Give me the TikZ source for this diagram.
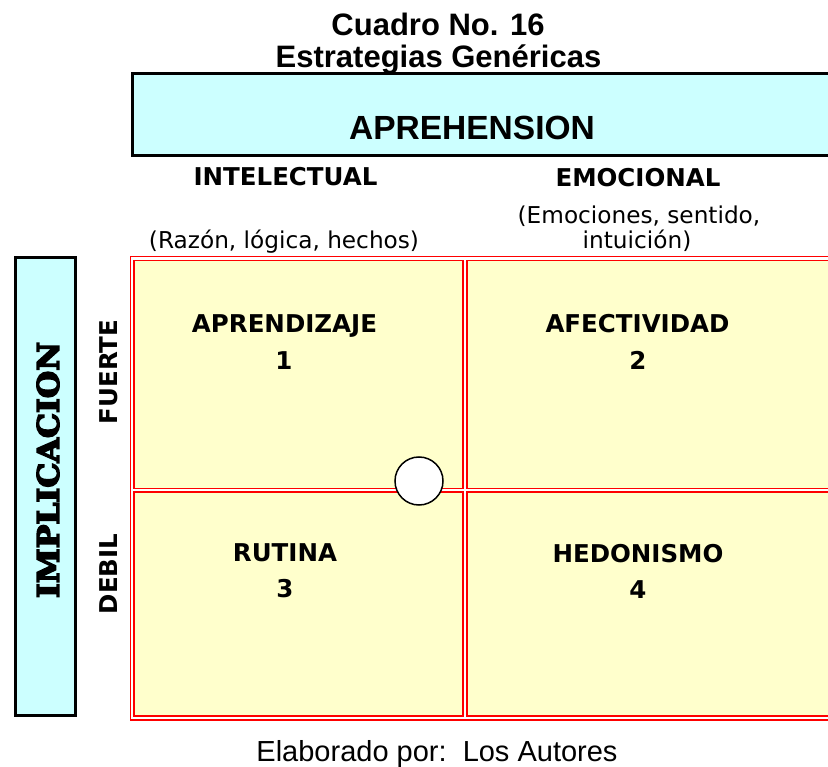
\documentclass[tikz,border=0pt]{standalone}
\usepackage{fontspec}
\setmainfont{Liberation Sans}
\newfontfamily\arialf{Liberation Sans}
\newfontfamily\tahf{DejaVu Sans}
\newfontfamily\slabf{DejaVu Serif Bold}[FakeBold=5]
\definecolor{cyanfill}{HTML}{CCFFFF}
\definecolor{yellowfill}{HTML}{FFFFCC}
\definecolor{gridred}{HTML}{FF0000}
\tikzset{
  txt/.style={inner sep=0pt, anchor=base},
  titletxt/.style={txt, font=\arialf\bfseries\fontsize{31}{36}\selectfont},
  headtxt/.style={txt, font=\tahf\bfseries\fontsize{24.5}{28}\selectfont},
  subtxt/.style={txt, font=\tahf\fontsize{23.2}{28}\selectfont},
  celltxt/.style={txt, font=\tahf\bfseries\fontsize{24.5}{28}\selectfont},
  sidetxt/.style={txt, rotate=90, font=\tahf\bfseries\fontsize{24.5}{28}\selectfont},
  redline/.style={draw=gridred, line width=1.7pt},
  cellbox/.style={redline, fill=yellowfill},
  bluebox/.style={draw=black, line width=3pt, fill=cyanfill},
}
\begin{document}
\begin{tikzpicture}[x=1pt, y=-1pt]
\path[use as bounding box] (0,0) rectangle (828,767);
\clip (0,0) rectangle (828,767);
\fill[white] (0,0) rectangle (828,767);

% title
\node[titletxt] (t1) at (438,36) {Cuadro No. 16};
\node[titletxt] (t2) at (438.5,68) {Estrategias Genéricas};

% aprehension box
\draw[bluebox] (132,74) rectangle (845,156);
\node[txt, font=\arialf\bfseries\fontsize{33.5}{38}\selectfont] (apr) at (472,140) {APREHENSION};

% column headings
\node[headtxt] (intel) at (285.5,186) {INTELECTUAL};
\node[headtxt] (emoc) at (638,187) {EMOCIONAL};
\node[subtxt] (razon) at (284,249) {(Razón, lógica, hechos)};
\node[subtxt] (emo1) at (639,224) {(Emociones, sentido,};
\node[subtxt] (emo2) at (637,249) {intuición)};

% implicacion box
\draw[bluebox] (15.5,257.5) rectangle (75,715.5);
\node[inner sep=0pt, rotate=90] (impl) at (48,470)
  {\resizebox{256pt}{22pt}{\slabf IMPLICACION}};
\node[sidetxt] (fuerte) at (117,372) {FUERTE};
\node[sidetxt] (debil) at (117,574) {DEBIL};

% grid
\draw[redline, fill=white] (130.5,256.5) rectangle (845,720);
\draw[cellbox] (134,260.5) rectangle (463,488.5);
\draw[cellbox] (467,260.5) rectangle (845,488.5);
\draw[cellbox] (134,492) rectangle (463,716);
\draw[cellbox] (467,492) rectangle (845,716);

% cell texts
\node[celltxt] (c1) at (284.5,333) {APRENDIZAJE};
\node[celltxt] (n1) at (284,370) {1};
\node[celltxt] (c2) at (637.5,333) {AFECTIVIDAD};
\node[celltxt] (n2) at (638,370) {2};
\node[celltxt] (c3) at (285,561) {RUTINA};
\node[celltxt] (n3) at (285,597) {3};
\node[celltxt] (c4) at (638,562) {HEDONISMO};
\node[celltxt] (n4) at (638,598) {4};

% circle
\node[circle, draw=black, line width=1.5pt, fill=white, minimum size=48pt, inner sep=0pt] (circ) at (419,481) {};

% footer
\node[txt, font=\arialf\fontsize{29}{34}\selectfont] (foot) at (437,761.5) {Elaborado por:\ \ Los Autores};
\end{tikzpicture}
\end{document}
